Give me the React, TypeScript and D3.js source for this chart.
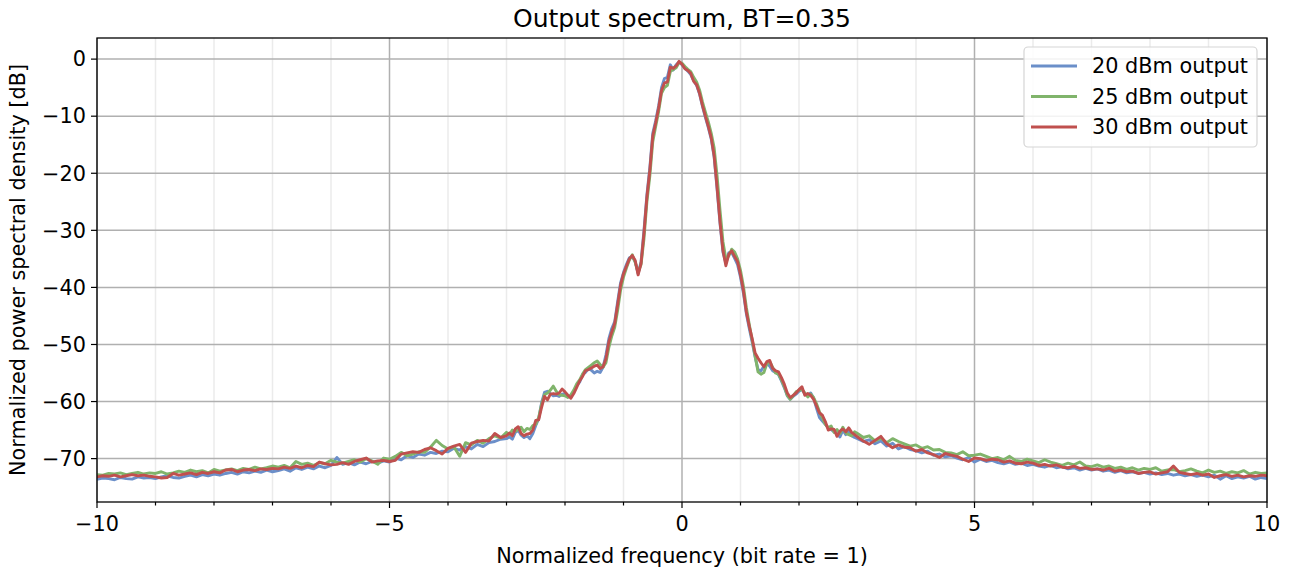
import * as d3 from "d3";

// sampling of the frequency axis: coarse in the tails, finer near the main lobe
const freqLeft = d3.range(70).map((i) => -10 + i * 0.1);
const freqCenter = d3.range(120).map((i) => -3 + i * 0.05);
const freqRight = d3.range(71).map((i) => 3 + i * 0.1);

// 20 dBm output
const blueLeft = [
  -73.6, -73.4, -73.5, -73.7, -73.3, -73.5, -73.6, -73.2, -73.4, -73.3,
  -73.5, -73.2, -73.0, -73.3, -73.4, -73.1, -72.9, -73.2, -72.8, -73.0,
  -72.7, -72.9, -72.6, -72.4, -72.7, -72.3, -72.5, -72.2, -72.4, -72.0,
  -72.3, -72.1, -71.8, -72.2, -71.6, -71.9, -71.5, -71.8, -71.3, -71.6,
  -71.2, -69.8, -71.0, -70.7, -71.1, -70.6, -70.9, -70.5, -70.8, -70.4,
  -70.6, -69.9, -70.2, -69.5, -69.8, -69.2, -69.4, -68.9, -69.1, -68.7,
  -68.8, -68.2, -68.5, -67.9, -68.3, -67.5, -67.9, -67.2, -67.0, -66.6,
];
const blueCenter = [
  -66.5, -66.2, -66.6, -65.4, -65.0, -65.9, -66.3, -66.0, -66.5, -65.6,
  -64.2, -63.0, -60.2, -58.4, -58.2, -58.6, -59.0, -58.9, -59.1, -58.7,
  -58.6, -59.0, -59.2, -58.3, -57.2, -56.6, -55.3, -54.9, -54.2, -54.5,
  -55.0, -54.7, -54.9, -54.0, -51.8, -49.0, -47.2, -46.0, -42.5, -39.2,
  -37.4, -36.0, -34.8, -34.6, -35.5, -37.6, -35.5, -30.0, -23.8, -19.0,
  -13.0, -10.8, -8.2, -5.0, -3.4, -3.2, -1.0, -1.9, -1.0, -0.5,
  -1.0, -1.6, -2.1, -2.7, -3.8, -4.6, -6.1, -8.3, -10.2, -12.0,
  -14.0, -17.2, -22.8, -28.8, -33.8, -35.8, -33.9, -33.9, -34.9, -36.0,
  -38.2, -41.0, -44.6, -47.2, -49.6, -52.2, -54.4, -54.6, -53.8, -53.3,
  -53.8, -54.6, -54.9, -55.3, -56.4, -57.6, -59.0, -59.6, -59.1, -58.7,
  -58.2, -57.8, -58.7, -58.9, -58.5, -59.4, -61.2, -62.8, -63.4, -64.0,
  -64.6, -64.9, -65.3, -65.6, -66.2, -65.0, -65.8, -65.2, -66.0, -66.3,
];
const blueRight = [
  -66.5, -67.0, -66.7, -67.4, -66.9, -67.8, -67.3, -68.3, -67.9, -68.4,
  -68.6, -69.0, -68.7, -69.4, -69.2, -69.7, -69.5, -69.9, -70.2, -69.8,
  -70.6, -70.1, -70.5, -70.3, -70.7, -70.9, -70.6, -71.0, -70.8, -71.2,
  -71.0, -71.3, -71.5, -71.2, -71.6, -71.4, -71.8, -71.6, -72.0, -71.7,
  -72.0, -71.8, -72.2, -72.0, -72.4, -72.1, -72.5, -72.3, -72.6, -72.4,
  -72.7, -72.5, -72.8, -72.6, -72.9, -72.7, -73.0, -72.8, -73.1, -72.9,
  -73.2, -72.9, -73.6, -73.0, -73.5, -73.2, -73.4, -73.1, -73.6, -73.3,
  -73.5,
];

// 25 dBm output
const greenLeft = [
  -72.8, -72.9, -72.6, -72.7, -72.5, -72.8, -72.6, -72.4, -72.7, -72.5,
  -72.6, -72.3, -72.7, -72.5, -72.2, -72.4, -72.0, -72.3, -72.1, -72.5,
  -71.9, -72.2, -72.0, -71.8, -72.1, -71.7, -71.9, -71.5, -71.8, -71.6,
  -71.3, -71.5, -71.2, -71.6, -70.5, -71.0, -70.8, -71.2, -70.7, -70.9,
  -70.3, -70.6, -70.8, -70.5, -70.2, -70.6, -70.0, -70.4, -71.0, -69.9,
  -70.1, -69.6, -68.9, -69.5, -69.2, -68.8, -68.9, -68.0, -66.8, -67.7,
  -68.3, -67.9, -69.6, -67.2, -67.6, -66.8, -67.3, -66.5, -66.0, -66.4,
];
const greenCenter = [
  -65.4, -65.8, -65.0, -65.2, -64.9, -64.5, -65.3, -64.7, -64.9, -64.2,
  -64.0, -62.8, -60.5, -58.8, -58.5, -58.0, -57.3, -58.2, -58.8, -58.9,
  -59.0, -59.3, -58.8, -58.0, -56.9, -56.2, -55.2, -54.4, -54.0, -53.6,
  -53.2, -52.9, -53.5, -54.0, -53.2, -50.5, -48.5, -47.0, -44.0, -40.5,
  -38.2, -36.6, -35.2, -34.3, -35.6, -37.4, -36.0, -31.5, -25.0, -20.5,
  -14.5, -11.8, -9.2, -6.0, -5.0, -4.6, -2.2, -1.8, -1.5, -0.6,
  -0.7, -1.3, -1.8, -2.2, -3.2, -4.0, -5.4, -7.5, -9.3, -11.0,
  -13.0, -15.6, -20.5, -26.5, -32.0, -35.0, -34.5, -33.3, -33.8, -35.0,
  -37.0, -39.8, -43.5, -46.5, -49.2, -52.0, -54.8, -55.2, -54.9, -53.4,
  -53.0, -54.0, -55.0, -55.2, -56.2, -57.4, -58.9, -59.6, -59.0, -58.3,
  -58.0, -57.9, -58.5, -59.2, -58.7, -59.3, -60.4, -61.8, -62.9, -64.0,
  -64.6, -64.3, -65.4, -64.9, -65.6, -64.5, -65.5, -65.8, -66.0, -65.3,
];
const greenRight = [
  -65.6, -66.3, -66.0, -66.9, -66.4, -67.2, -66.5, -67.0, -67.4, -67.8,
  -67.6, -68.2, -67.9, -68.5, -68.4, -68.9, -69.0, -69.3, -68.8, -69.5,
  -69.4, -69.2, -69.6, -70.0, -69.8, -70.2, -69.6, -70.3, -70.5, -70.1,
  -70.4, -70.7, -70.2, -70.6, -70.9, -71.2, -70.8, -71.1, -70.6, -71.3,
  -71.4, -71.1, -71.5, -71.3, -71.7, -71.5, -71.9, -71.6, -72.0, -71.7,
  -71.9, -71.6, -72.2, -72.0, -71.9, -72.3, -72.1, -71.8, -72.2, -72.5,
  -72.0, -72.4, -72.2, -72.6, -72.3, -72.5, -72.1, -72.7, -72.4, -72.6,
  -72.5,
];

// 30 dBm output
const redLeft = [
  -73.2, -73.0, -73.1, -72.9, -73.2, -73.0, -72.8, -73.0, -72.9, -73.1,
  -73.2, -73.4, -73.3, -72.6, -72.9, -72.7, -72.5, -72.8, -72.4, -72.6,
  -72.3, -72.5, -72.0, -71.9, -72.3, -72.0, -71.9, -72.1, -71.8, -71.9,
  -71.7, -71.8, -71.5, -71.7, -71.3, -71.6, -71.2, -71.4, -70.6, -70.9,
  -71.1, -71.0, -70.7, -71.0, -70.5, -70.2, -69.9, -70.6, -70.4, -70.3,
  -70.5, -70.3, -69.2, -69.0, -68.8, -68.9, -68.4, -68.1, -68.6, -69.2,
  -68.2, -67.8, -67.5, -68.9, -67.3, -67.0, -66.8, -66.9, -65.6, -66.3,
];
const redCenter = [
  -66.0, -65.5, -66.0, -64.8, -64.4, -65.6, -66.0, -65.7, -65.6, -65.0,
  -63.3, -63.2, -61.0, -59.1, -59.7, -58.7, -58.6, -58.7, -58.5, -57.8,
  -58.3, -58.9, -59.4, -58.6, -57.5, -56.4, -55.6, -54.6, -54.4, -54.1,
  -53.8, -53.6, -54.2, -53.9, -52.5, -49.5, -47.8, -46.3, -43.0, -39.6,
  -37.6, -36.3, -35.0, -34.4, -35.3, -37.8, -35.8, -30.5, -24.2, -19.5,
  -13.5, -11.2, -8.6, -5.5, -4.2, -4.0, -1.4, -1.6, -1.2, -0.4,
  -0.9, -1.7, -2.0, -2.5, -3.9, -4.5, -6.0, -8.1, -10.0, -11.8,
  -13.8, -17.0, -22.5, -28.5, -33.5, -36.2, -34.2, -33.6, -34.6, -35.5,
  -37.8, -40.6, -44.3, -46.8, -49.0, -51.5, -52.4, -53.2, -53.9, -53.0,
  -52.8, -54.2, -54.6, -54.8, -55.8, -57.0, -58.5, -59.3, -58.9, -58.5,
  -57.9, -57.4, -58.9, -58.6, -58.9, -59.6, -60.8, -62.0, -62.4, -63.5,
  -65.0, -64.8, -64.9, -66.1, -65.2, -64.8, -65.3, -64.6, -65.4, -65.8,
];
const redRight = [
  -66.2, -66.9, -67.5, -66.8, -66.1, -67.4, -68.1, -67.6, -68.0, -68.1,
  -68.7, -68.4, -69.0, -69.3, -69.8, -69.1, -69.4, -69.6, -70.1, -70.5,
  -69.9, -70.0, -70.3, -70.1, -70.2, -70.6, -70.4, -70.8, -70.9, -70.6,
  -70.8, -71.2, -71.0, -71.3, -71.1, -71.5, -71.6, -71.3, -71.7, -71.6,
  -71.9, -71.8, -72.0, -71.7, -72.2, -72.0, -72.3, -72.2, -72.6, -72.4,
  -72.3, -72.7, -72.5, -72.3, -71.3, -72.4, -72.6, -72.8, -72.6, -72.9,
  -72.7, -73.3, -73.0, -72.8, -73.1, -72.9, -73.2, -73.0, -73.1, -72.9,
  -73.0,
];

const seriesNames = ["20 dBm output", "25 dBm output", "30 dBm output"];
const seriesColors = ["#6b8fc9", "#80b46b", "#c0504e"];
const xTicks = [-10, -5, 0, 5, 10];
const xMinorTicks = d3.range(-10, 11, 1);
const yTicks = [0, -10, -20, -30, -40, -50, -60, -70];

const freq = [...freqLeft, ...freqCenter, ...freqRight];
const series = [
  [...blueLeft, ...blueCenter, ...blueRight],
  [...greenLeft, ...greenCenter, ...greenRight],
  [...redLeft, ...redCenter, ...redRight],
];

const W = 1293;
const H = 571;
const left = 97;
const right = 1267;
const top = 38;
const bottom = 502;
const font = "DejaVu Sans, sans-serif";
const fs = 20.8;
const minus = (v: number) => (v < 0 ? "\u2212" + Math.abs(v) : String(v));

export default function App() {
  const x = d3.scaleLinear().domain([-10, 10]).range([left, right]);
  const y = d3.scaleLinear().domain([-77.6, 3.7]).range([bottom, top]);

  const line = d3
    .line<number>()
    .x((d, i) => x(freq[i]))
    .y((d) => y(d));

  return (
    <svg
      width={W}
      height={H}
      style={{ position: "absolute", left: 0, top: 0, background: "#fff" }}
    >
      <defs>
        <clipPath id="plot">
          <rect x={left} y={top} width={right - left} height={bottom - top} />
        </clipPath>
      </defs>

      {/* minor grid */}
      {xMinorTicks
        .filter((t) => !xTicks.includes(t))
        .map((t) => (
          <line key={"mg" + t} x1={x(t)} x2={x(t)} y1={top} y2={bottom}
            stroke="#ebebeb" strokeWidth={1.5} />
        ))}
      {/* major grid */}
      {xTicks.map((t) => (
        <line key={"gx" + t} x1={x(t)} x2={x(t)} y1={top} y2={bottom}
          stroke="#b0b0b0" strokeWidth={1.5} />
      ))}
      {yTicks.map((t) => (
        <line key={"gy" + t} x1={left} x2={right} y1={y(t)} y2={y(t)}
          stroke="#b0b0b0" strokeWidth={1.5} />
      ))}

      <g clipPath="url(#plot)">
        {series.map((s, k) => (
          <path key={k} d={line(s) ?? ""} fill="none" stroke={seriesColors[k]}
            strokeWidth={2.9} strokeLinejoin="round" strokeLinecap="square" />
        ))}
      </g>

      {/* spines */}
      <rect x={left} y={top} width={right - left} height={bottom - top}
        fill="none" stroke="#000" strokeWidth={1.3} />

      {/* x ticks */}
      {xMinorTicks.map((t) => (
        <line key={"mt" + t} x1={x(t)} x2={x(t)} y1={bottom}
          y2={bottom + (xTicks.includes(t) ? 6 : 3.5)} stroke="#000" strokeWidth={1.2} />
      ))}
      {xTicks.map((t) => (
        <text key={"xl" + t} x={x(t)} y={bottom + 29} textAnchor="middle"
          fontFamily={font} fontSize={fs} fill="#000">
          {minus(t)}
        </text>
      ))}

      {/* y ticks */}
      {yTicks.map((t) => (
        <g key={"yt" + t}>
          <line x1={left - 6} x2={left} y1={y(t)} y2={y(t)} stroke="#000" strokeWidth={1.2} />
          <text x={left - 11} y={y(t)} dy="0.35em" textAnchor="end"
            fontFamily={font} fontSize={fs} fill="#000">
            {minus(t)}
          </text>
        </g>
      ))}

      {/* labels */}
      <text x={(left + right) / 2} y={H - 8} textAnchor="middle"
        fontFamily={font} fontSize={fs} fill="#000">
        Normalized frequency (bit rate = 1)
      </text>
      <text transform={`translate(25, ${(top + bottom) / 2}) rotate(-90)`}
        textAnchor="middle" fontFamily={font} fontSize={fs} fill="#000">
        Normalized power spectral density [dB]
      </text>
      <text x={(left + right) / 2} y={27} textAnchor="middle"
        fontFamily={font} fontSize={25} fill="#000">
        Output spectrum, BT=0.35
      </text>

      {/* legend */}
      <rect x={1024} y={47} width={233} height={100} rx={4} fill="#fff"
        fillOpacity={0.85} stroke="#d5d5d5" strokeWidth={1.2} />
      {seriesNames.map((n, k) => (
        <g key={n} transform={`translate(1031, ${66 + k * 30.5})`}>
          <line x1={0} x2={46} y1={0} y2={0} stroke={seriesColors[k]} strokeWidth={2.9} />
          <text x={61} y={0} dy="0.35em" fontFamily={font} fontSize={fs} fill="#000">
            {n}
          </text>
        </g>
      ))}
    </svg>
  );
}
